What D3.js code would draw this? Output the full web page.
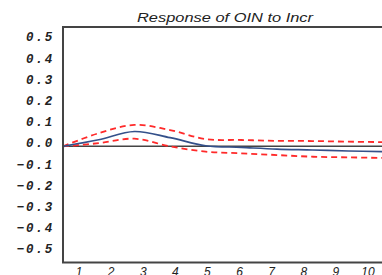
<!DOCTYPE html>
<html>
<head>
<meta charset="utf-8">
<script src="https://cdn.jsdelivr.net/npm/d3@7"></script>
<style>
  body { margin: 0; background: #fff; }
  svg { display: block; }
  .ylab text { font-family: "Liberation Mono", monospace; font-weight: bold; font-style: italic; font-size: 12.5px; letter-spacing: 1.8px; fill: #222; }
  .xlab text { font-family: "Liberation Sans", Arial, sans-serif; font-style: italic; font-size: 12px; fill: #222; }
</style>
</head>
<body>
<div id="chart"></div>
<script>
// periods of the impulse response
var periods = [1, 2, 3, 4, 5, 6, 7, 8, 9, 10];
// response of OIN to a shock in Incr
var response = [0, 0.031, 0.070, 0.041, 0.003, -0.005, -0.013, -0.017, -0.022, -0.025];
// +/- 2 S.E. bands
var upper = [0, 0.062, 0.101, 0.077, 0.034, 0.030, 0.026, 0.025, 0.022, 0.020];
var lower = [0, 0.015, 0.036, 0.000, -0.025, -0.033, -0.041, -0.049, -0.052, -0.055];
var yTicks = [0.5, 0.4, 0.3, 0.2, 0.1, 0, -0.1, -0.2, -0.3, -0.4, -0.5];

var width = 382, height = 275;
// plot frame edges (window.top is reserved, so use other names)
var plotL = 63, plotR = 384, plotT = 27, plotB = 262.5;

var svg = d3.select("#chart").append("svg")
    .attr("width", width)
    .attr("height", height);

// data scale: period 1 at the left frame, 10 at the right frame
var x = d3.scaleLinear().domain([1, 10]).range([plotL, plotR]);
// label scale: one band per period
var xBand = d3.scaleBand().domain(periods).range([plotL, plotR]);
var y = d3.scaleLinear().domain([-0.548, 0.563]).range([plotB, plotT]);

// title
svg.append("text")
    .attr("x", 225)
    .attr("y", 22)
    .attr("text-anchor", "middle")
    .attr("textLength", 176)
    .attr("lengthAdjust", "spacingAndGlyphs")
    .style("font-family", "Liberation Sans, Arial, sans-serif")
    .style("font-style", "italic")
    .style("font-size", "13px")
    .style("fill", "#222")
    .text("Response of OIN to Incr");

// y labels
var yAxis = d3.axisLeft(y)
    .tickValues(yTicks)
    .tickSize(0)
    .tickPadding(8)
    .tickFormat(d3.format(".1f"));
var gy = svg.append("g")
    .attr("class", "ylab")
    .attr("transform", "translate(" + plotL + ",0)")
    .call(yAxis);
gy.select(".domain").remove();
gy.selectAll("text").attr("y", -3.5).attr("x", -9);

// x labels
var xAxis = d3.axisBottom(xBand).tickSize(0).tickPadding(0);
var gx = svg.append("g")
    .attr("class", "xlab")
    .attr("transform", "translate(0," + plotB + ")")
    .call(xAxis);
gx.select(".domain").remove();
gx.selectAll("text").attr("dy", null).attr("y", 13.5);

// zero line
svg.append("line")
    .attr("x1", plotL).attr("x2", plotR)
    .attr("y1", y(0)).attr("y2", y(0))
    .attr("stroke", "#444")
    .attr("stroke-width", 1.5);

var line = d3.line()
    .x(function(d, i) { return x(periods[i]); })
    .y(function(d) { return y(d); })
    .curve(d3.curveCatmullRom);

// bands
[upper, lower].forEach(function(s) {
    svg.append("path")
        .attr("d", line(s))
        .attr("fill", "none")
        .attr("stroke", "#ff2a2a")
        .attr("stroke-width", 1.8)
        .attr("stroke-dasharray", "6,4");
});

// response
svg.append("path")
    .attr("d", line(response))
    .attr("fill", "none")
    .attr("stroke", "#34508a")
    .attr("stroke-width", 1.6);

// frame
svg.append("path")
    .attr("d", "M" + plotR + "," + plotT + "H" + plotL + "V" + plotB + "H" + plotR)
    .attr("fill", "none")
    .attr("stroke", "#444")
    .attr("stroke-width", 2);
</script>
</body>
</html>
